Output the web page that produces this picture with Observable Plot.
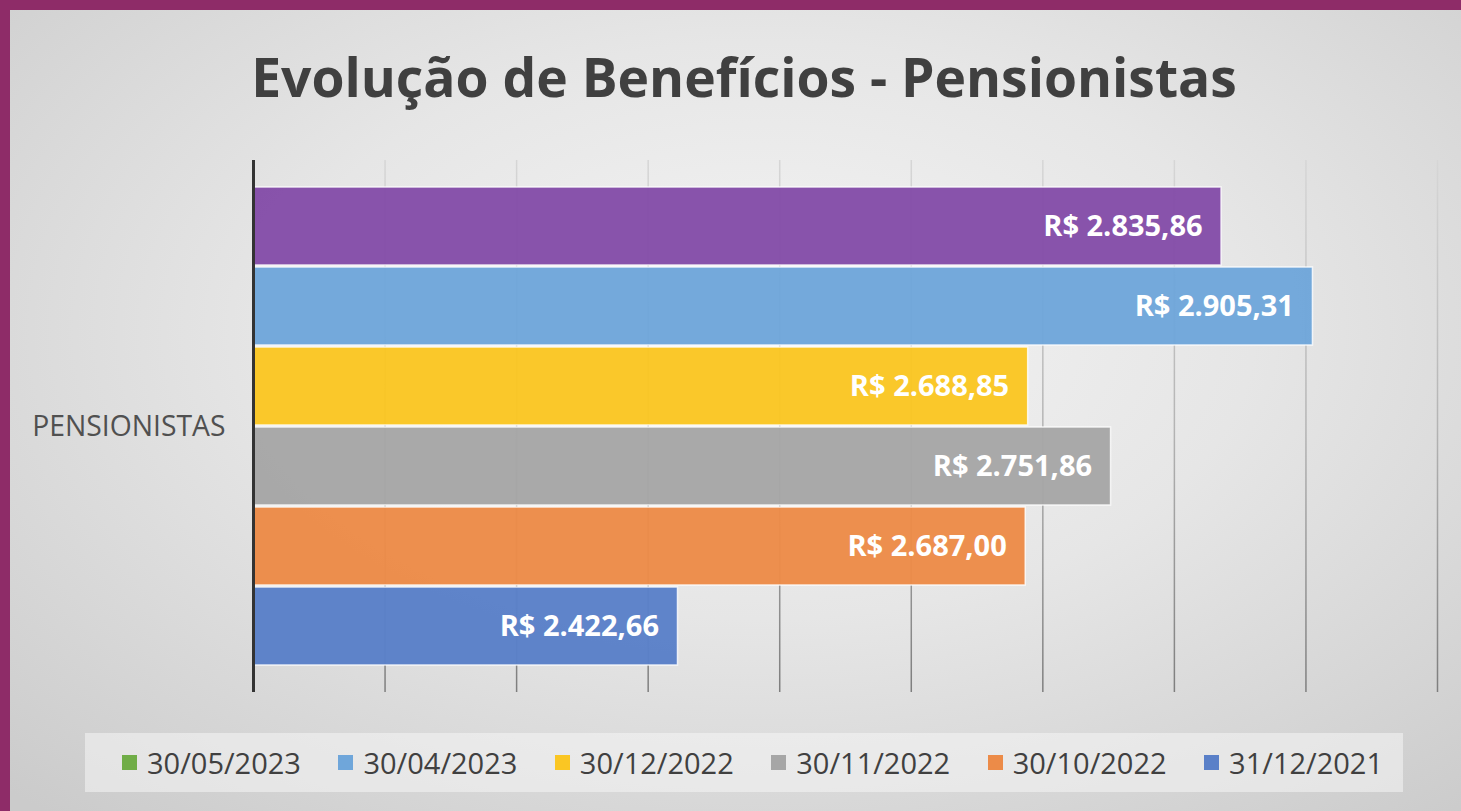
<!DOCTYPE html>
<html>
<head>
<meta charset="utf-8">
<script src="https://cdn.jsdelivr.net/npm/d3@7"></script>
<script src="https://cdn.jsdelivr.net/npm/@observablehq/plot@0.6"></script>
<style>
  html, body { margin: 0; padding: 0; }
  body { width: 1461px; height: 811px; background: #8e2c68; position: relative; overflow: hidden; font-family: "Open Sans", sans-serif; }
  #panel { position: absolute; left: 10px; top: 10px; right: 0; bottom: 0;
    background: radial-gradient(ellipse 75% 80% at 52% 40%, #f4f4f4 0%, #e6e6e6 45%, #cbcbcb 100%); }
  #title { position: absolute; left: 0; top: 50px; width: 1461px; padding-left: 27px; box-sizing: border-box; text-align: center;
    font-size: 53.4px; line-height: 54px; font-weight: 700; color: #404040; white-space: nowrap; }
  #chart { position: absolute; left: 0; top: 130px; }
  #legend { position: absolute; left: 85px; top: 733px; width: 1318px; height: 59px; box-sizing: border-box; padding-left: 37px;
    background: rgba(245,245,245,0.55); display: flex; align-items: center; gap: 37.5px; }
  .item { display: flex; align-items: center; gap: 10px; font-size: 29px; color: #404040; }
  .sw { width: 15px; height: 15px; }
</style>
</head>
<body>
<div id="panel"></div>
<div id="title">Evolução de Benefícios - Pensionistas</div>
<div id="chart"></div>
<div id="legend"></div>
<script>
// ---- data ----
const group = "PENSIONISTAS";
const dates = ["30/05/2023", "30/04/2023", "30/12/2022", "30/11/2022", "30/10/2022", "31/12/2021"];
const values = [2835.86, 2905.31, 2688.85, 2751.86, 2687.00, 2422.66];
const barColors = ["#844DA8", "#6FA6DA", "#FAC623", "#A6A6A6", "#EC8B48", "#5A80C8"];
const legendColors = ["#70AD47", "#6FA6DA", "#FAC623", "#A6A6A6", "#EC8B48", "#5A80C8"];
const xMin = 2100, xMax = 3000;
const gridTicks = [2200, 2300, 2400, 2500, 2600, 2700, 2800, 2900, 3000];

const rows = dates.map((d, i) => ({group, date: d, value: values[i], color: barColors[i]}));
const brl = d3.formatLocale({decimal: ",", thousands: ".", grouping: [3], currency: ["R$ ", ""]}).format("$,.2f");

const plot = Plot.plot({
  width: 1461,
  height: 590,
  marginLeft: 253,
  marginRight: 24,
  marginTop: 30,
  marginBottom: 28,
  style: {background: "transparent", fontFamily: "Open Sans, sans-serif"},
  x: {domain: [xMin, xMax], axis: null},
  y: {domain: dates, axis: null, paddingInner: 0.03, paddingOuter: 0.337},
  fy: {domain: [group], padding: 0},
  marks: [
    Plot.ruleX(gridTicks, {stroke: "url(#gridgrad)", strokeWidth: 1.5}),
    Plot.barX(rows, {fy: "group", y: "date", x1: () => xMin, x2: "value", fill: "color",
      stroke: "white", strokeWidth: 1.5, strokeOpacity: 0.8, fillOpacity: 0.97}),
    Plot.text(rows, {fy: "group", y: "date", x: "value", text: d => brl(d.value), textAnchor: "end", dx: -19,
      fill: "white", fontWeight: "bold", fontSize: 29}),
    Plot.ruleX([xMin], {stroke: "#333", strokeWidth: 3}),
    Plot.axisFy({anchor: "left", tickSize: 0, tickPadding: 28, fontSize: 28.3, label: null, fill: "#505050"})
  ]
});

// gradient for gridlines (lighter at top, darker toward bottom)
const ns = "http://www.w3.org/2000/svg";
const defs = document.createElementNS(ns, "defs");
const lg = document.createElementNS(ns, "linearGradient");
lg.setAttribute("id", "gridgrad");
lg.setAttribute("gradientUnits", "userSpaceOnUse");
lg.setAttribute("x1", "0"); lg.setAttribute("x2", "0");
lg.setAttribute("y1", "30"); lg.setAttribute("y2", "562");
[["0", "#d6d6d6"], ["0.5", "#b4b4b4"], ["1", "#7e7e7e"]].forEach(([o, c]) => {
  const s = document.createElementNS(ns, "stop");
  s.setAttribute("offset", o); s.setAttribute("stop-color", c);
  lg.appendChild(s);
});
defs.appendChild(lg);
plot.insertBefore(defs, plot.firstChild);
document.getElementById("chart").appendChild(plot);

// legend
const legend = document.getElementById("legend");
dates.forEach((d, i) => {
  const it = document.createElement("div");
  it.className = "item";
  const sw = document.createElement("div");
  sw.className = "sw";
  sw.style.background = legendColors[i];
  const tx = document.createElement("span");
  tx.textContent = d;
  it.appendChild(sw); it.appendChild(tx);
  legend.appendChild(it);
});
</script>
</body>
</html>
